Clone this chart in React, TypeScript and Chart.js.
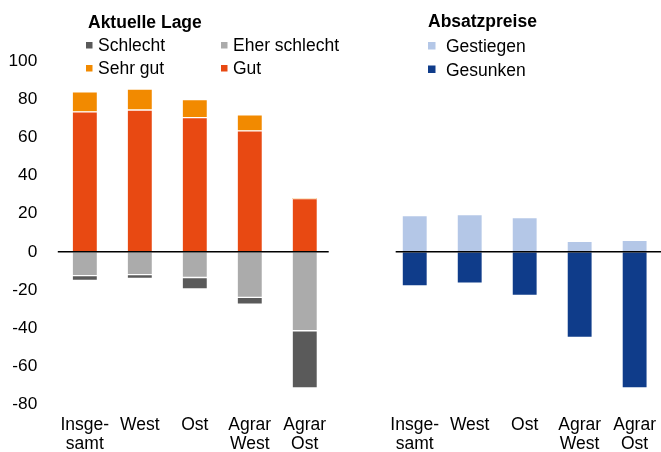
import React, { useEffect, useRef } from "react";
import { Chart, registerables } from "chart.js";

Chart.register(...registerables);

// ---- data ----
const categories: (string | string[])[] = [["Insge-", "samt"], "West", "Ost", ["Agrar", "West"], ["Agrar", "Ost"]];
const gut = [73.5, 74.5, 70.5, 63.5, 28];
const sehrGut = [10.5, 11, 9.5, 8.5, 0];
const eherSchlecht = [-12.5, -12, -13.5, -24, -41.5];
const schlecht = [-2.5, -2, -6, -3.5, -30];
const gestiegen = [19, 19.5, 18, 5.5, 6];
const gesunken = [-18, -16.5, -23, -45, -71.5];
const yMin = -80;
const yMax = 100;
const yStep = 20;

const leftTitle = "Aktuelle Lage";
const rightTitle = "Absatzpreise";

const COLORS = {
  gut: "#e84912",
  sehrGut: "#f28a00",
  eherSchlecht: "#ababab",
  schlecht: "#5a5a5a",
  gestiegen: "#b4c7e7",
  gesunken: "#0f3c8a",
};

const FONT = "'Liberation Sans', Arial, sans-serif";

const labels = [...categories, "", ...categories];
const nulls = categories.map(() => null);
const leftOf = (arr: number[]) => [...arr, null, ...nulls];
const rightOf = (arr: number[]) => [...nulls, null, ...arr];

const legendPlugin = {
  id: "customLegend",
  afterDraw(chart: any) {
    const ctx = chart.ctx;
    ctx.save();
    ctx.fillStyle = "#000";
    ctx.textBaseline = "alphabetic";
    ctx.textAlign = "left";
    ctx.font = `bold 17.5px ${FONT}`;
    ctx.fillText(leftTitle, 88, 27.5);
    ctx.fillText(rightTitle, 428, 27);
    ctx.font = `17.5px ${FONT}`;
    const items = [
      { t: "Schlecht", c: COLORS.schlecht, x: 86, y: 51, s: 6.5 },
      { t: "Eher schlecht", c: COLORS.eherSchlecht, x: 221, y: 51, s: 6.5 },
      { t: "Sehr gut", c: COLORS.sehrGut, x: 86, y: 74, s: 6.5 },
      { t: "Gut", c: COLORS.gut, x: 221, y: 74, s: 6.5 },
      { t: "Gestiegen", c: COLORS.gestiegen, x: 428, y: 52, s: 7.5 },
      { t: "Gesunken", c: COLORS.gesunken, x: 428, y: 75.5, s: 7.5 },
    ];
    for (const it of items) {
      ctx.fillStyle = it.c;
      ctx.fillRect(it.x, it.y - 2.5 - it.s, it.s, it.s);
      ctx.fillStyle = "#000";
      ctx.fillText(it.t, it.x + (it.s > 7 ? 18 : 12), it.y);
    }
    ctx.restore();
  },
};

const zeroLinePlugin = {
  id: "zeroLines",
  afterDatasetsDraw(chart: any) {
    const ctx = chart.ctx;
    const x = chart.scales.x;
    const y = chart.scales.y;
    const y0 = y.getPixelForValue(0);
    const n = categories.length;
    ctx.save();
    ctx.strokeStyle = "#000";
    ctx.lineWidth = 1.5;
    ctx.beginPath();
    ctx.moveTo(x.getPixelForValue(0) - 27, y0);
    ctx.lineTo(x.getPixelForValue(n - 1) + 24, y0);
    ctx.moveTo(x.getPixelForValue(n + 1) - 19, y0);
    ctx.lineTo(x.getPixelForValue(2 * n) + 28, y0);
    ctx.stroke();
    ctx.restore();
  },
};

export default function App() {
  const ref = useRef<HTMLCanvasElement>(null);
  useEffect(() => {
    if (!ref.current) return;
    const border = { top: 1, bottom: 1, left: 0, right: 0 };
    const common = {
      barThickness: 24,
      borderColor: "#ffffff",
      borderWidth: border,
      borderSkipped: false,
      stack: "s",
    };
    const chart = new Chart(ref.current, {
      type: "bar",
      data: {
        labels,
        datasets: [
          { label: "Gut", data: leftOf(gut), backgroundColor: COLORS.gut, ...common },
          { label: "Sehr gut", data: leftOf(sehrGut), backgroundColor: COLORS.sehrGut, ...common },
          { label: "Eher schlecht", data: leftOf(eherSchlecht), backgroundColor: COLORS.eherSchlecht, ...common },
          { label: "Schlecht", data: leftOf(schlecht), backgroundColor: COLORS.schlecht, ...common },
          { label: "Gestiegen", data: rightOf(gestiegen), backgroundColor: COLORS.gestiegen, ...common },
          { label: "Gesunken", data: rightOf(gesunken), backgroundColor: COLORS.gesunken, ...common },
        ] as any,
      },
      options: {
        responsive: false,
        animation: false,
        layout: { padding: { top: 61.5, bottom: 0, left: 0, right: 0 } },
        plugins: { legend: { display: false }, tooltip: { enabled: false }, title: { display: false } },
        scales: {
          x: {
            stacked: true,
            offset: true,
            grid: { display: false, drawTicks: false },
            border: { display: false },
            ticks: {
              color: "#000",
              font: { family: FONT, size: 17.5, lineHeight: 1.08 },
              padding: 12,
              maxRotation: 0,
              autoSkip: false,
            },
            afterFit(scale: any) {
              scale.height = 48;
            },
          },
          y: {
            stacked: true,
            min: yMin,
            max: yMax,
            grid: { display: false, drawTicks: false },
            border: { display: false },
            ticks: {
              stepSize: yStep,
              color: "#000",
              font: { family: FONT, size: 17.3 },
              padding: 20,
            },
            afterFit(scale: any) {
              scale.width = 57.3;
            },
          },
        },
      } as any,
      plugins: [zeroLinePlugin, legendPlugin],
    });
    return () => chart.destroy();
  }, []);

  return (
    <div style={{ position: "absolute", left: 0, top: 0, width: 661, height: 452, overflow: "hidden", background: "#fff" }}>
      <canvas ref={ref} width={668} height={452} style={{ width: 668, height: 452, display: "block" }} />
    </div>
  );
}
